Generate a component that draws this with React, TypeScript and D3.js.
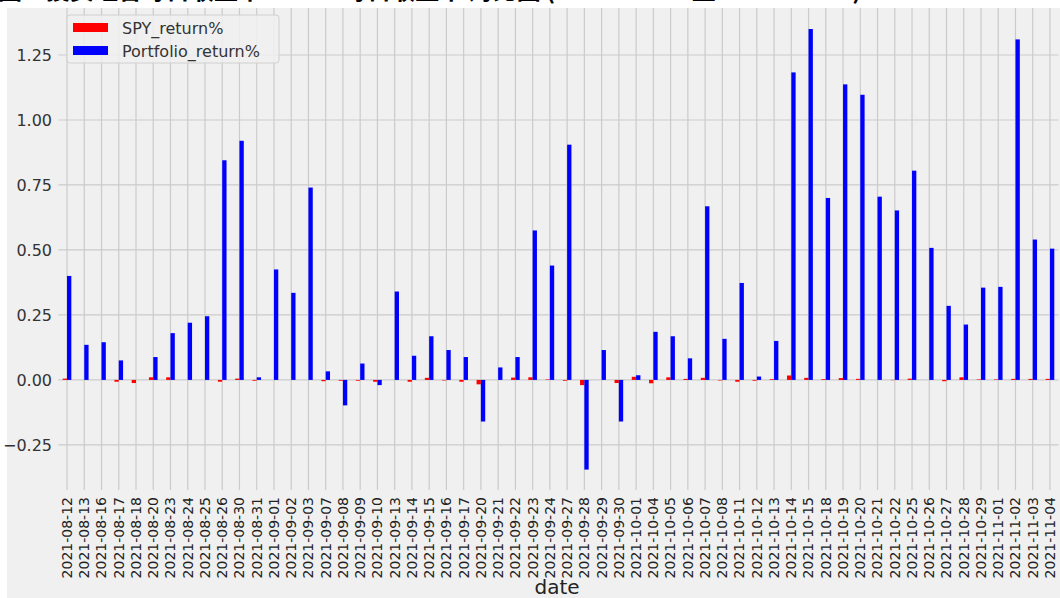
import React from "react";
import * as d3 from "d3";

const dates = [
  "2021-08-12","2021-08-13","2021-08-16","2021-08-17","2021-08-18","2021-08-20","2021-08-23","2021-08-24","2021-08-25","2021-08-26","2021-08-30","2021-08-31",
  "2021-09-01","2021-09-02","2021-09-03","2021-09-07","2021-09-08","2021-09-09","2021-09-10","2021-09-13","2021-09-14","2021-09-15","2021-09-16","2021-09-17","2021-09-20","2021-09-21","2021-09-22","2021-09-23","2021-09-24","2021-09-27","2021-09-28","2021-09-29","2021-09-30",
  "2021-10-01","2021-10-04","2021-10-05","2021-10-06","2021-10-07","2021-10-08","2021-10-11","2021-10-12","2021-10-13","2021-10-14","2021-10-15","2021-10-18","2021-10-19","2021-10-20","2021-10-21","2021-10-22","2021-10-25","2021-10-26","2021-10-27","2021-10-28","2021-10-29",
  "2021-11-01","2021-11-02","2021-11-03","2021-11-04",
];

const spyReturn = [
  0.005, 0.0, 0.0, -0.007, -0.012, 0.01, 0.01, 0.0, 0.0, -0.007, 0.005, -0.003,
  0.0, 0.0, 0.0, -0.005, -0.003, -0.003, -0.007, 0.0, -0.007, 0.008, -0.002, -0.007, -0.017, 0.0, 0.009, 0.01, 0.002, -0.003, -0.02, 0.0, -0.012,
  0.012, -0.013, 0.01, 0.004, 0.008, -0.002, -0.007, -0.003, 0.003, 0.017, 0.008, 0.003, 0.007, 0.004, 0.0, -0.001, 0.005, 0.0, -0.005, 0.01, 0.002,
  0.002, 0.004, 0.004, 0.004,
];

const portfolioReturn = [
  0.40, 0.135, 0.145, 0.075, 0.0, 0.088, 0.18, 0.22, 0.245, 0.845, 0.92, 0.01,
  0.425, 0.335, 0.74, 0.033, -0.098, 0.063, -0.02, 0.34, 0.093, 0.168, 0.115, 0.088, -0.16, 0.048, 0.088, 0.575, 0.44, 0.905, -0.345, 0.115, -0.16,
  0.018, 0.185, 0.168, 0.083, 0.668, 0.158, 0.373, 0.013, 0.15, 1.183, 1.35, 0.70, 1.137, 1.097, 0.705, 0.652, 0.805, 0.508, 0.285, 0.213, 0.355,
  0.358, 1.31, 0.54, 0.505,
];

const yTicks = [-0.25, 0, 0.25, 0.5, 0.75, 1.0, 1.25];
const seriesNames = ["SPY_return%", "Portfolio_return%"];
const seriesColors = ["#ff0000", "#0000ff"];
const titleText = "图：投资组合每日收益率 vs SPY每日收益率 对比图 (2021-08-12 至 2021-11-04)";

export default function App() {
  const W = 1060, H = 598;
  const left = 58.4, right = 1058.6, top = 8, bottom = 490;
  const x = d3.scaleLinear().domain([-0.5, dates.length - 0.5]).range([left, right]);
  const y = d3.scaleLinear().domain([-0.4235, 1.4308]).range([bottom, top]);
  const bw = 0.25;
  const barW = x(bw) - x(0);
  const grid = "#cbcbcb";
  const font = "'DejaVu Sans', sans-serif";

  return (
    <svg width={W} height={H} style={{ position: "absolute", left: 0, top: 0, display: "block" }}>
      <rect x={0} y={0} width={W} height={H} fill="#ffffff" />
      <rect x={7} y={8} width={W - 7} height={H - 8} fill="#f0f0f0" />
      <text x={-2} y={-1} fontFamily="'Noto Sans CJK SC', sans-serif" fontWeight="bold" fontSize={24} fill="#000">{titleText}</text>

      {/* grid */}
      {dates.map((d, i) => (
        <line key={"vg" + i} x1={x(i)} x2={x(i)} y1={top} y2={bottom} stroke={grid} strokeWidth={1.2} />
      ))}
      {yTicks.map((t) => (
        <line key={"hg" + t} x1={left} x2={right} y1={y(t)} y2={y(t)} stroke={grid} strokeWidth={1.2} />
      ))}

      {/* bars */}
      {spyReturn.map((v, i) => (
        <rect key={"s" + i} x={x(i - bw)} width={barW} y={Math.min(y(v), y(0))} height={Math.abs(y(v) - y(0))} fill={seriesColors[0]} />
      ))}
      {portfolioReturn.map((v, i) => (
        <rect key={"p" + i} x={x(i)} width={barW} y={Math.min(y(v), y(0))} height={Math.abs(y(v) - y(0))} fill={seriesColors[1]} />
      ))}

      {/* y tick labels */}
      {yTicks.map((t) => (
        <text key={"yl" + t} x={52} y={y(t)} dy="0.35em" textAnchor="end" fontFamily={font} fontSize={16} fill="#333">
          {d3.format(".2f")(t)}
        </text>
      ))}

      {/* x tick labels */}
      {dates.map((d, i) => (
        <text key={"xl" + i} transform={`translate(${x(i)},497) rotate(-90)`} dy="0.35em" textAnchor="end" fontFamily={font} fontSize={14} fill="#222">
          {d}
        </text>
      ))}

      <text x={557} y={594} textAnchor="middle" fontFamily={font} fontSize={20} fill="#222">date</text>

      {/* legend */}
      <rect x={67} y={15} width={212} height={48} rx={3} fill="#f0f0f0" fillOpacity={0.85} stroke="#d0d0d0" />
      {seriesNames.map((n, i) => (
        <g key={"lg" + i}>
          <rect x={73} y={23 + i * 23} width={35} height={9} fill={seriesColors[i]} />
          <text x={122} y={34 + i * 23} fontFamily={font} fontSize={16} fill="#333">{n}</text>
        </g>
      ))}
    </svg>
  );
}
